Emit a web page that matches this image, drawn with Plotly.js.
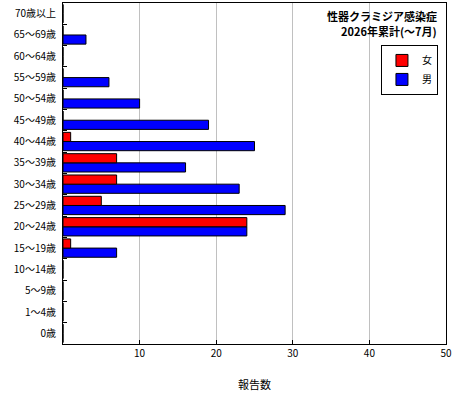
<!DOCTYPE html>
<html>
<head>
<meta charset="utf-8">
<script src="https://cdn.plot.ly/plotly-3.0.1.min.js"></script>
<style>
  html, body { margin: 0; padding: 0; background: #fff; }
  #chart { width: 460px; height: 400px; }
</style>
</head>
<body>
<div id="chart"></div>
<script>
// age groups, bottom to top
const ageGroups = ['0歳', '1～4歳', '5～9歳', '10～14歳', '15～19歳', '20～24歳', '25～29歳', '30～34歳',
  '35～39歳', '40～44歳', '45～49歳', '50～54歳', '55～59歳', '60～64歳', '65～69歳', '70歳以上'];
const female = [0, 0, 0, 0, 1, 24, 5, 7, 7, 1, 0, 0, 0, 0, 0, 0];
const male = [0, 0, 0, 0, 7, 24, 29, 23, 16, 25, 19, 10, 6, 0, 3, 0];
const xTicks = [10, 20, 30, 40, 50];
const titleLines = ['性器クラミジア感染症', '2026年累計(～7月)'];

const font = 'Noto Sans CJK JP, sans-serif';

// male first so female sits above it in each group; legend reversed to list 女 first
const traces = [
  {
    y: ageGroups, x: male, name: '男', type: 'bar', orientation: 'h',
    marker: { color: '#0000ff', line: { color: '#000', width: 1 } },
  },
  {
    y: ageGroups, x: female, name: '女', type: 'bar', orientation: 'h',
    marker: { color: '#ff0000', line: { color: '#000', width: 1 } },
  },
];

const layout = {
  width: 460, height: 400,
  margin: { l: 63, r: 14, t: 3, b: 56 },
  paper_bgcolor: '#fff', plot_bgcolor: '#fff',
  font: { family: font, size: 10, color: '#000' },
  barmode: 'group',
  bargap: 0.14,
  bargroupgap: 0,
  showlegend: true,
  legend: {
    x: 0.979, xanchor: 'right', y: 0.877, yanchor: 'top',
    traceorder: 'reversed',
    bordercolor: '#000', borderwidth: 1, bgcolor: '#fff',
    font: { family: font, size: 10 },
    itemwidth: 30, tracegroupgap: 0,
  },
  xaxis: {
    range: [0, 50], tickvals: xTicks, ticktext: xTicks.map(String),
    showgrid: true, gridcolor: '#c0c0c0', gridwidth: 1,
    zeroline: false,
    showline: true, linecolor: '#000', linewidth: 1, mirror: true,
    ticks: 'inside', ticklen: 4, tickcolor: '#000',
    tickfont: { family: font, size: 10 },
    title: { text: '報告数', font: { family: font, size: 11 }, standoff: 22 },
    fixedrange: true,
  },
  yaxis: {
    type: 'category', categoryorder: 'array', categoryarray: ageGroups,
    showgrid: false, zeroline: false,
    showline: true, linecolor: '#000', linewidth: 1, mirror: true,
    ticks: 'inside', ticklen: 4, tickcolor: '#000', tickson: 'boundaries',
    tickfont: { family: font, size: 10 },
    ticklabelstandoff: 4,
    fixedrange: true,
  },
  annotations: titleLines.map((t, i) => ({
    xref: 'paper', yref: 'paper', x: 0.979, y: 0.962 - i * 0.044,
    xanchor: 'right', yanchor: 'middle',
    showarrow: false, borderpad: 0,
    text: '<b>' + t + '</b>',
    font: { family: font, size: 11, color: '#000' },
  })),
};

Plotly.newPlot('chart', traces, layout, { staticPlot: true });
</script>
</body>
</html>
